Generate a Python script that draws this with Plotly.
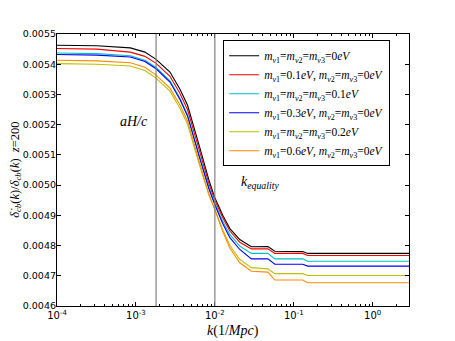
import plotly.graph_objects as go

# wavenumber k (1/Mpc)
k = [1e-4, 3.2e-4, 8.5e-4, 1.3e-3, 1.8e-3, 2.7e-3, 3.6e-3, 4.5e-3, 6.3e-3, 8.4e-3,
     1.0e-2, 1.26e-2, 1.55e-2, 2.07e-2, 2.9e-2, 4.7e-2, 5.75e-2, 0.13, 0.15, 3.0]

# growth-rate ratio, units of 1e-3
black = [5.463, 5.461, 5.454, 5.440, 5.416, 5.374, 5.318, 5.265, 5.133, 5.017,
         4.958, 4.900, 4.856, 4.820, 4.796, 4.797, 4.781, 4.780, 4.774, 4.774]
red = [5.452, 5.450, 5.440, 5.426, 5.403, 5.360, 5.304, 5.250, 5.119, 5.005,
       4.950, 4.892, 4.848, 4.811, 4.789, 4.789, 4.774, 4.774, 4.767, 4.767]
cyan = [5.437, 5.435, 5.428, 5.413, 5.389, 5.345, 5.288, 5.233, 5.102, 4.993,
        4.940, 4.880, 4.836, 4.798, 4.774, 4.774, 4.756, 4.756, 4.748, 4.748]
blue = [5.432, 5.430, 5.424, 5.409, 5.385, 5.341, 5.284, 5.229, 5.097, 4.988,
        4.935, 4.872, 4.826, 4.787, 4.756, 4.756, 4.738, 4.738, 4.732, 4.732]
yellow = [5.402, 5.400, 5.394, 5.379, 5.354, 5.311, 5.255, 5.202, 5.071, 4.967,
          4.920, 4.852, 4.800, 4.754, 4.727, 4.723, 4.707, 4.707, 4.701, 4.701]
orange = [5.413, 5.411, 5.405, 5.390, 5.364, 5.321, 5.266, 5.213, 5.080, 4.971,
          4.918, 4.846, 4.792, 4.743, 4.715, 4.712, 4.686, 4.686, 4.677, 4.677]

labels = [
    "<i>m</i><sub><i>ν</i>1</sub>=<i>m</i><sub><i>ν</i>2</sub>=<i>m</i><sub><i>ν</i>3</sub>=0<i>eV</i>",
    "<i>m</i><sub><i>ν</i>1</sub>=0.1<i>eV</i>, <i>m</i><sub><i>ν</i>2</sub>=<i>m</i><sub><i>ν</i>3</sub>=0<i>eV</i>",
    "<i>m</i><sub><i>ν</i>1</sub>=<i>m</i><sub><i>ν</i>2</sub>=<i>m</i><sub><i>ν</i>3</sub>=0.1<i>eV</i>",
    "<i>m</i><sub><i>ν</i>1</sub>=0.3<i>eV</i>, <i>m</i><sub><i>ν</i>2</sub>=<i>m</i><sub><i>ν</i>3</sub>=0<i>eV</i>",
    "<i>m</i><sub><i>ν</i>1</sub>=<i>m</i><sub><i>ν</i>2</sub>=<i>m</i><sub><i>ν</i>3</sub>=0.2<i>eV</i>",
    "<i>m</i><sub><i>ν</i>1</sub>=0.6<i>eV</i>, <i>m</i><sub><i>ν</i>2</sub>=<i>m</i><sub><i>ν</i>3</sub>=0<i>eV</i>",
]
series = [black, red, cyan, blue, yellow, orange]
colors = ["#000000", "#ff0000", "#00bfbf", "#0000ff", "#bfbf00", "#ff8c00"]

vlines = [1.8e-3, 1.0e-2]

fig = go.Figure()

for lab, ys, col in zip(labels, series, colors):
    fig.add_trace(go.Scatter(
        x=k, y=[v * 1e-3 for v in ys],
        mode="lines", name=lab,
        line=dict(color=col, width=1.1),
    ))

for xv in vlines:
    fig.add_vline(x=xv, line_color="#808080", line_width=1.2)

serif = "Liberation Serif, DejaVu Serif, serif"

fig.add_annotation(x=-3.03, y=0.005209, xref="x", yref="y", showarrow=False,
                   text="<i>aH/c</i>", font=dict(family=serif, size=14, color="black"))
fig.add_annotation(x=-1.69, y=0.005008, xref="x", yref="y", showarrow=False, xanchor="left",
                   text="<i>k</i><sub><i>equality</i></sub>",
                   font=dict(family=serif, size=14, color="black"))

# axis titles
fig.add_annotation(x=0.5, y=-0.092, xref="paper", yref="paper", showarrow=False,
                   yanchor="middle", text="<i>k</i>(1/<i>Mpc</i>)",
                   font=dict(family=serif, size=14, color="black"))
fig.add_annotation(x=-0.117, y=0.5, xref="paper", yref="paper", showarrow=False,
                   xanchor="center", textangle=-90,
                   text="<i>δ̇</i><sub><i>cb</i></sub>(<i>k</i>)/<i>δ</i><sub><i>cb</i></sub>(<i>k</i>)  <i>z</i>=200",
                   font=dict(family=serif, size=12.5, color="black"))

minor_vals = [m * 10.0 ** e for e in range(-4, 1) for m in range(2, 10)]

fig.update_xaxes(
    type="log", range=[-4, 0.46], automargin=False,
    tickvals=[1e-4, 1e-3, 1e-2, 1e-1, 1e0],
    ticktext=["10<sup>-4</sup>", "10<sup>-3</sup>", "10<sup>-2</sup>", "10<sup>-1</sup>", "10<sup>0</sup>"],
    ticks="inside", ticklen=4, tickcolor="black",
    minor=dict(tickmode="array", tickvals=minor_vals, ticks="inside", ticklen=2, tickcolor="black"),
    showline=True, linecolor="black", linewidth=1.2, mirror="allticks",
    showgrid=False, zeroline=False,
    tickfont=dict(family="DejaVu Sans, sans-serif", size=10, color="black"),
)
fig.update_yaxes(
    range=[0.0046, 0.0055], dtick=0.0001, tick0=0.0046, tickformat=".4f", automargin=False,
    ticks="inside", ticklen=4, tickcolor="black", ticklabelstandoff=-2,
    showline=True, linecolor="black", linewidth=1.2, mirror="allticks",
    showgrid=False, zeroline=False,
    tickfont=dict(family="DejaVu Sans, sans-serif", size=9.5, color="black"),
)

# the page body adds an 8px offset, so margins are shifted to compensate
fig.update_layout(
    width=455, height=341,
    margin=dict(l=49, r=54, t=26, b=43),
    plot_bgcolor="white", paper_bgcolor="white",
    showlegend=True,
    legend=dict(
        x=0.472, y=0.977, xanchor="left", yanchor="top",
        bgcolor="white", bordercolor="black", borderwidth=1,
        font=dict(family=serif, size=11.5, color="black"),
        itemwidth=30, tracegroupgap=0,
    ),
)

fig.write_html("out.html")
